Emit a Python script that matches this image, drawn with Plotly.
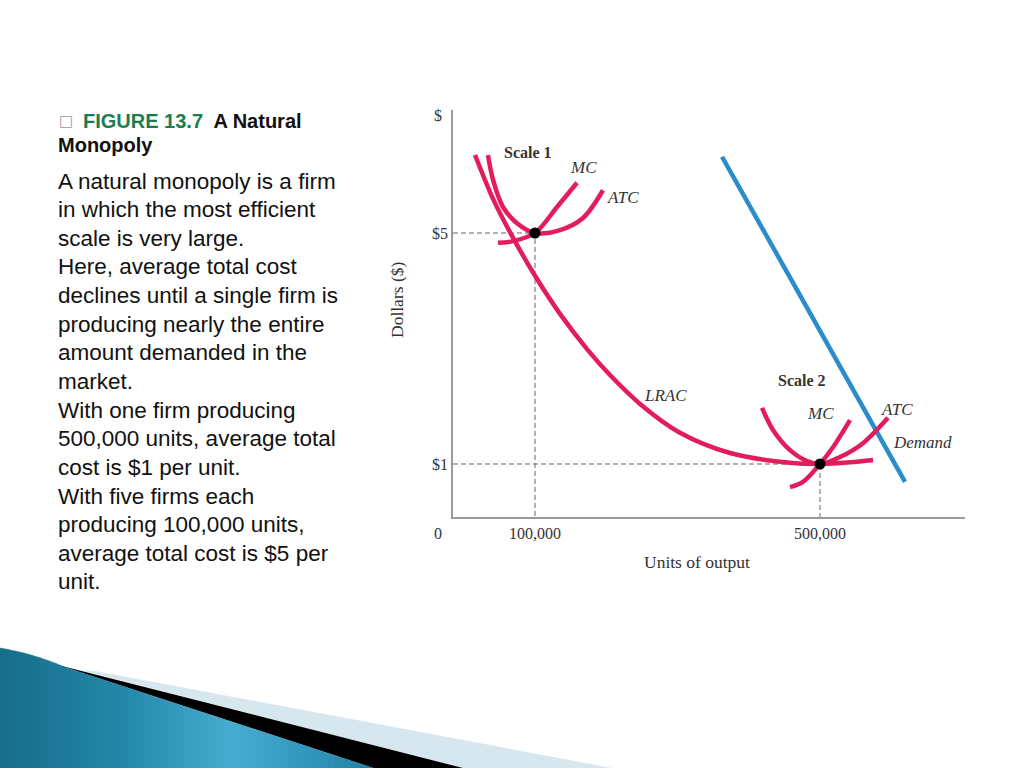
import plotly.graph_objects as go

# ---------------- data (quantity in thousands of units, cost in $) ----------------
output_ticks = [100, 500]
output_tick_labels = ["100,000", "500,000"]
price_ticks = [1, 5]
price_tick_labels = ["$1", "$5"]

lrac_q = [15.8, 41.1, 67.7, 100.0, 135.1, 173.0, 205.3, 247.4, 303.5, 373.7, 457.9, 500.0, 542.1, 574.4]
lrac_c = [6.35, 5.59, 4.95, 4.26, 3.60, 2.99, 2.54, 2.04, 1.54, 1.19, 1.02, 1.00, 1.03, 1.07]

atc1_q = [34.0, 41.1, 55.1, 74.7, 100.0, 135.1, 167.4, 195.4]
atc1_c = [6.35, 5.92, 5.45, 5.17, 5.00, 5.05, 5.26, 5.74]
mc1_q = [48.1, 69.1, 100.0, 130.9, 158.9]
mc1_c = [4.83, 4.86, 5.00, 5.45, 5.87]

atc2_q = [418.6, 434.0, 457.9, 481.8, 500.0, 528.1, 560.3, 595.4]
atc2_c = [1.97, 1.59, 1.24, 1.05, 1.00, 1.12, 1.36, 1.80]
mc2_q = [457.9, 476.1, 500.0, 518.2, 542.1]
mc2_c = [0.60, 0.69, 1.00, 1.29, 1.76]

demand_q = [362.5, 619.3]
demand_p = [6.32, 0.69]

efficient_q = [100, 500]
efficient_c = [5, 1]

title_tag = "FIGURE 13.7"
title_rest = "A Natural"
title_line2 = "Monopoly"
body_lines = [
    "A natural monopoly is a firm",
    "in which the most efficient",
    "scale is very large.",
    "Here, average total cost",
    "declines until a single firm is",
    "producing nearly the entire",
    "amount demanded in the",
    "market.",
    "With one firm producing",
    "500,000 units, average total",
    "cost is $1 per unit.",
    "With five firms each",
    "producing 100,000 units,",
    "average total cost is $5 per",
    "unit.",
]

# ---------------- layout geometry ----------------
W, H = 1024, 768
L, R, T, B = 453, 965, 110, 517
XR = [-15.1, 703.5]
YR = [0.082, 7.13]


def px(xp):
    return (xp - L) / (R - L)


def py(yp):
    return (B - yp) / (B - T)


RED = "#e31c5c"
BLUE = "#2a8ccd"
SERIF = "Liberation Serif"
SANS = "Liberation Sans"
TXT = "#333333"

fig = go.Figure()

# guide dashed lines
for q, c in zip(efficient_q, efficient_c):
    fig.add_trace(go.Scatter(x=[XR[0], q, q], y=[c, c, YR[0]], mode="lines",
                             line=dict(color="#666666", width=1, dash="5px,3px"),
                             hoverinfo="skip", showlegend=False))

curve_style = dict(mode="lines", line=dict(color=RED, width=4.5, shape="spline", smoothing=0.9),
                   showlegend=False, hoverinfo="skip")
fig.add_trace(go.Scatter(x=demand_q, y=demand_p, mode="lines",
                         line=dict(color=BLUE, width=4.5), showlegend=False, hoverinfo="skip"))
fig.add_trace(go.Scatter(x=lrac_q, y=lrac_c, name="LRAC", **curve_style))
fig.add_trace(go.Scatter(x=atc1_q, y=atc1_c, name="ATC 1", **curve_style))
fig.add_trace(go.Scatter(x=mc1_q, y=mc1_c, name="MC 1", **curve_style))
fig.add_trace(go.Scatter(x=atc2_q, y=atc2_c, name="ATC 2", **curve_style))
fig.add_trace(go.Scatter(x=mc2_q, y=mc2_c, name="MC 2", **curve_style))
fig.add_trace(go.Scatter(x=efficient_q, y=efficient_c, mode="markers",
                         marker=dict(color="black", size=11), showlegend=False, hoverinfo="skip"))

annotations = []


def lab(text, x, y, bold=False, italic=False, size=17):
    t = text
    if italic:
        t = "<i>" + t + "</i>"
    if bold:
        t = "<b>" + t + "</b>"
    annotations.append(dict(text=t, x=x, y=y, xref="x", yref="y", showarrow=False,
                            xanchor="center", yanchor="middle",
                            font=dict(family=SERIF, size=size, color=TXT)))


lab("Scale 1", 90.2, 6.40, bold=True, size=16)
lab("MC", 167.4, 6.14, italic=True)
lab("ATC", 223.5, 5.61, italic=True)
lab("LRAC", 282.5, 2.19, italic=True)
lab("Scale 2", 474.7, 2.45, bold=True, size=16)
lab("MC", 500.0, 1.88, italic=True)
lab("ATC", 608.1, 1.94, italic=True)
lab("Demand", 643.2, 1.38, italic=True)


def ptext(text, x, y, size, family=SERIF, color=TXT, xanchor="center", angle=0):
    annotations.append(dict(text=text, x=px(x), y=py(y), xref="paper", yref="paper", showarrow=False,
                            xanchor=xanchor, yanchor="middle", textangle=angle,
                            font=dict(family=family, size=size, color=color)))


# axis extras
ptext("$", 438, 115, 16)
ptext("0", 438, 533, 16)
ptext("Units of output", 697, 562, 17.5)
ptext("Dollars ($)", 397, 300, 17.5, angle=-90)

# left text panel
ptext("□", 57, 121, 15, family="DejaVu Sans", color="#9a9a9a", xanchor="left")
ptext("<b><span style='color:#1b7d4f'>" + title_tag + "</span>  " + title_rest + "</b>",
      81, 121, 20, family=SANS, color="#111111", xanchor="left")
ptext("<b>" + title_line2 + "</b>", 56, 145, 20, family=SANS, color="#111111", xanchor="left")
for i, line in enumerate(body_lines):
    ptext(line, 56, 181 + i * 28.64, 22.5, family=SANS, color="#111111", xanchor="left")


# decorative bottom-left swoosh
def path(points, close=True):
    s = "M " + " L ".join(f"{px(a):.5f},{py(b):.5f}" for a, b in points)
    return s + (" Z" if close else "")


def teal_top(x):
    # upper edge of the teal area
    if x <= 67:
        t = x / 67.0
        return 648 + 20 * (0.55 * t + 0.45 * t * t)
    return 668 + (x - 67) * 100.0 / 306.0


def teal_color(x):
    stops = [(0, (22, 110, 138)), (120, (36, 136, 168)), (230, (72, 172, 208)),
             (300, (52, 152, 190)), (380, (28, 126, 160))]
    for (x0, c0), (x1, c1) in zip(stops, stops[1:]):
        if x0 <= x <= x1:
            f = (x - x0) / (x1 - x0)
            c = [round(a + (b - a) * f) for a, b in zip(c0, c1)]
            return "rgb(%d,%d,%d)" % tuple(c)
    return "rgb(28,126,160)"


shapes = [
    dict(type="path", xref="paper", yref="paper", line=dict(width=0), fillcolor="#d7e7f0",
         path=path([(95, 671), (612, 768), (463, 768), (80, 670)])),
    dict(type="path", xref="paper", yref="paper", line=dict(width=0), fillcolor="#000000",
         path=path([(50, 663), (463, 768), (373, 768), (67, 668)])),
]
step = 8
xs = list(range(0, 373, step)) + [373]
for a, b in zip(xs, xs[1:]):
    shapes.append(dict(type="path", xref="paper", yref="paper", line=dict(width=0.5, color=teal_color(a)),
                       fillcolor=teal_color(a),
                       path=path([(a, teal_top(a)), (b, teal_top(b)), (b, 768), (a, 768)])))

fig.update_layout(
    width=W, height=H,
    margin=dict(l=L, r=W - R, t=T, b=H - B, pad=0),
    paper_bgcolor="white", plot_bgcolor="white",
    showlegend=False,
    annotations=annotations,
    shapes=shapes,
    xaxis=dict(range=XR, showgrid=False, zeroline=False, showline=True, linecolor="#9a9a9a", linewidth=1.5,
               tickvals=output_ticks, ticktext=output_tick_labels, ticks="", ticklabelstandoff=1,
               tickfont=dict(family=SERIF, size=16, color=TXT), fixedrange=True),
    yaxis=dict(range=YR, showgrid=False, zeroline=False, showline=True, linecolor="#9a9a9a", linewidth=1.5,
               tickvals=price_ticks, ticktext=price_tick_labels, ticks="", ticklabelstandoff=0,
               tickfont=dict(family=SERIF, size=16, color=TXT), fixedrange=True),
)

fig.write_html("out.html", config={"displayModeBar": False},
               post_script="document.body.style.margin='0px';document.body.style.overflow='hidden';")
